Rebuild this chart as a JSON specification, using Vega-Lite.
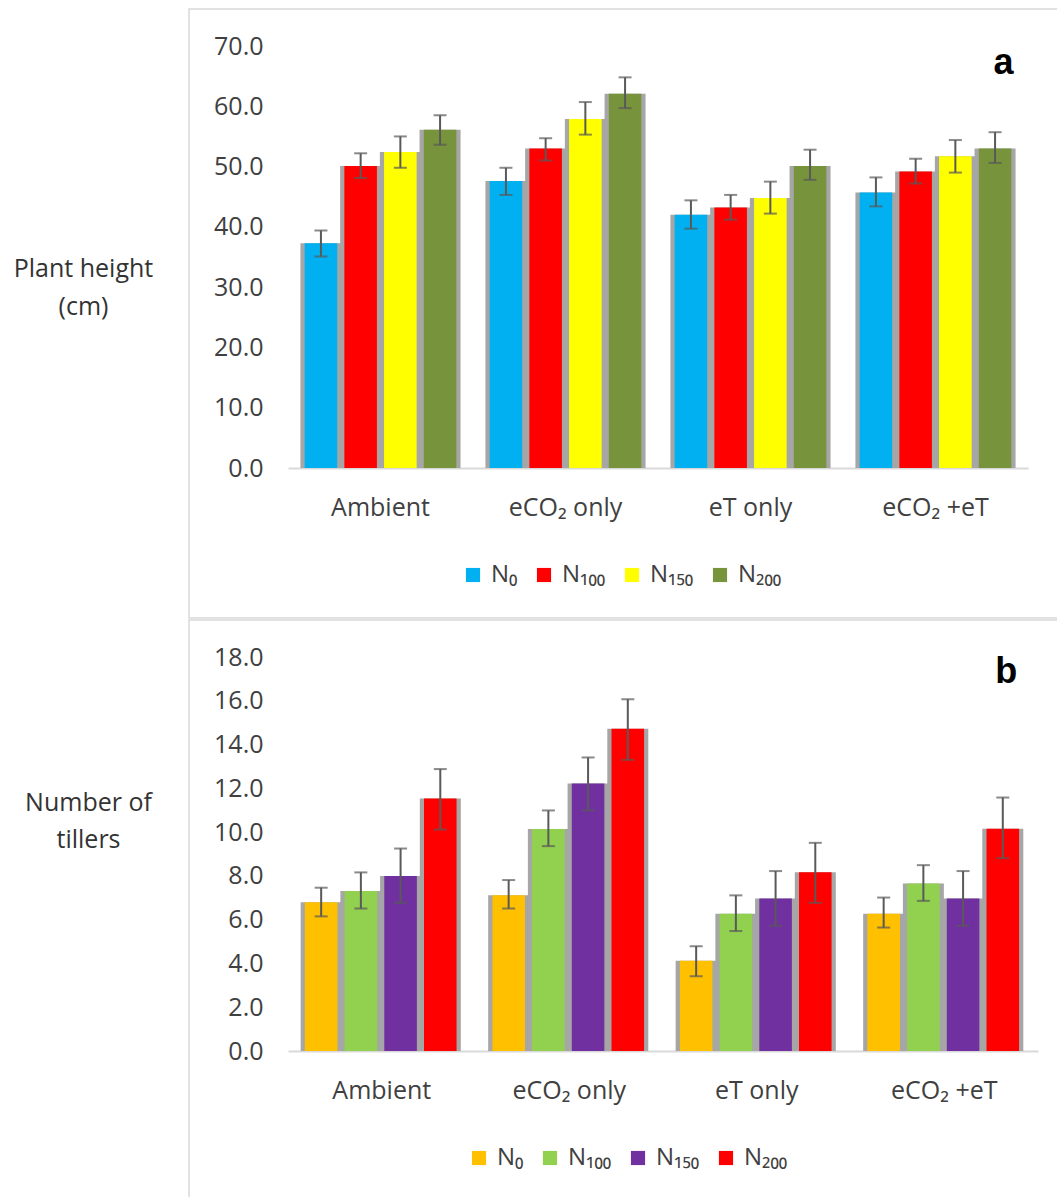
{
  "$schema": "https://vega.github.io/schema/vega-lite/v6.json",
  "padding": {"left": 12, "top": 8, "right": 0, "bottom": 0},
  "spacing": 0,
  "resolve": {"scale": {"color": "independent"}, "legend": {"color": "independent"}},
  "config": {
    "view": {"stroke": "#d9d9d9", "strokeWidth": 1.5},
    "font": "Open Sans",
    "axis": {"labelColor": "#404040", "titleColor": "#333333", "labelFont": "Open Sans", "titleFont": "Open Sans", "grid": false, "ticks": false, "tickSize": 0},
    "legend": {"labelColor": "#404040", "labelFont": "Open Sans"}
  },
  "datasets": {
    "height": [
      {"cond": "Ambient", "n": "N₀", "value": 37.3, "lo": 35.1, "hi": 39.4},
      {"cond": "Ambient", "n": "N₁₀₀", "value": 50.1, "lo": 48.1, "hi": 52.2},
      {"cond": "Ambient", "n": "N₁₅₀", "value": 52.4, "lo": 49.8, "hi": 55.0},
      {"cond": "Ambient", "n": "N₂₀₀", "value": 56.1, "lo": 53.6, "hi": 58.5},
      {"cond": "eCO₂ only", "n": "N₀", "value": 47.6, "lo": 45.3, "hi": 49.8},
      {"cond": "eCO₂ only", "n": "N₁₀₀", "value": 53.0, "lo": 51.0, "hi": 54.7},
      {"cond": "eCO₂ only", "n": "N₁₅₀", "value": 57.9, "lo": 55.3, "hi": 60.7},
      {"cond": "eCO₂ only", "n": "N₂₀₀", "value": 62.1, "lo": 59.7, "hi": 64.8},
      {"cond": "eT only", "n": "N₀", "value": 42.0, "lo": 39.7, "hi": 44.4},
      {"cond": "eT only", "n": "N₁₀₀", "value": 43.2, "lo": 41.2, "hi": 45.3},
      {"cond": "eT only", "n": "N₁₅₀", "value": 44.8, "lo": 42.2, "hi": 47.5},
      {"cond": "eT only", "n": "N₂₀₀", "value": 50.1, "lo": 47.8, "hi": 52.8},
      {"cond": "eCO₂ +eT", "n": "N₀", "value": 45.7, "lo": 43.4, "hi": 48.2},
      {"cond": "eCO₂ +eT", "n": "N₁₀₀", "value": 49.2, "lo": 47.2, "hi": 51.3},
      {"cond": "eCO₂ +eT", "n": "N₁₅₀", "value": 51.7, "lo": 49.0, "hi": 54.4},
      {"cond": "eCO₂ +eT", "n": "N₂₀₀", "value": 53.0, "lo": 50.6, "hi": 55.7}
    ],
    "tillers": [
      {"cond": "Ambient", "n": "N₀", "value": 6.79, "lo": 6.15, "hi": 7.46},
      {"cond": "Ambient", "n": "N₁₀₀", "value": 7.31, "lo": 6.51, "hi": 8.16},
      {"cond": "Ambient", "n": "N₁₅₀", "value": 7.99, "lo": 6.77, "hi": 9.25},
      {"cond": "Ambient", "n": "N₂₀₀", "value": 11.53, "lo": 10.12, "hi": 12.88},
      {"cond": "eCO₂ only", "n": "N₀", "value": 7.12, "lo": 6.51, "hi": 7.81},
      {"cond": "eCO₂ only", "n": "N₁₀₀", "value": 10.14, "lo": 9.36, "hi": 10.99},
      {"cond": "eCO₂ only", "n": "N₁₅₀", "value": 12.22, "lo": 10.99, "hi": 13.41},
      {"cond": "eCO₂ only", "n": "N₂₀₀", "value": 14.72, "lo": 13.30, "hi": 16.07},
      {"cond": "eT only", "n": "N₀", "value": 4.12, "lo": 3.42, "hi": 4.79},
      {"cond": "eT only", "n": "N₁₀₀", "value": 6.27, "lo": 5.48, "hi": 7.11},
      {"cond": "eT only", "n": "N₁₅₀", "value": 6.97, "lo": 5.72, "hi": 8.22},
      {"cond": "eT only", "n": "N₂₀₀", "value": 8.17, "lo": 6.77, "hi": 9.51},
      {"cond": "eCO₂ +eT", "n": "N₀", "value": 6.27, "lo": 5.64, "hi": 7.01},
      {"cond": "eCO₂ +eT", "n": "N₁₀₀", "value": 7.65, "lo": 6.86, "hi": 8.49},
      {"cond": "eCO₂ +eT", "n": "N₁₅₀", "value": 6.97, "lo": 5.72, "hi": 8.22},
      {"cond": "eCO₂ +eT", "n": "N₂₀₀", "value": 10.15, "lo": 8.81, "hi": 11.58}
    ]
  },
  "vconcat": [
    {
      "width": 870,
      "height": 609,
      "layer": [
        {
          "data": {"name": "height"},
          "encoding": {
            "x": {"field": "cond", "type": "nominal",
              "scale": {"domain": ["Ambient", "eCO₂ only", "eT only", "eCO₂ +eT"], "range": [99, 839], "paddingInner": 0.18, "paddingOuter": 0.09},
              "axis": {"title": null, "offset": -150, "labelAngle": 0, "labelPadding": 27, "labelFontSize": 25, "domainColor": "#d9d9d9", "domainWidth": 2}},
            "xOffset": {"field": "n", "type": "nominal", "sort": ["N₀", "N₁₀₀", "N₁₅₀", "N₂₀₀"], "scale": {"paddingInner": 0.18, "paddingOuter": 0}}
          },
          "layer": [
            {
              "mark": {"type": "bar", "color": "#a6a6a6", "width": 41},
              "encoding": {
                "y": {"field": "value", "type": "quantitative",
                  "scale": {"domain": [0, 70], "range": [459, 37], "nice": false},
                  "axis": {"title": ["Plant height", "(cm)"], "values": [0, 10, 20, 30, 40, 50, 60, 70], "format": ".1f", "domain": false, "offset": -74, "labelPadding": 0, "labelFontSize": 25,
                    "titleAngle": 0, "titleAlign": "center", "titleBaseline": "middle", "titleX": -180, "titleY": 259, "titleFontSize": 25, "titleFontWeight": "normal", "titleLineHeight": 38}}
              }
            },
            {
              "mark": {"type": "bar"},
              "encoding": {
                "y": {"field": "value", "type": "quantitative",
                  "axis": {"title": ["Plant height", "(cm)"], "values": [0, 10, 20, 30, 40, 50, 60, 70], "format": ".1f", "domain": false, "offset": -74, "labelPadding": 0, "labelFontSize": 25,
                    "titleAngle": 0, "titleAlign": "center", "titleBaseline": "middle", "titleX": -180, "titleY": 259, "titleFontSize": 25, "titleFontWeight": "normal", "titleLineHeight": 38}},
                "color": {"field": "n", "type": "nominal", "sort": ["N₀", "N₁₀₀", "N₁₅₀", "N₂₀₀"],
                  "scale": {"domain": ["N₀", "N₁₀₀", "N₁₅₀", "N₂₀₀"], "range": ["#00b0f0", "#ff0000", "#ffff00", "#77933c"]},
                  "legend": {"orient": "none", "legendX": 272, "legendY": 554, "direction": "horizontal", "title": null, "symbolType": "square", "symbolSize": 200, "symbolStrokeWidth": 0, "labelFontSize": 24, "labelOffset": 6, "columnPadding": 14}}
              }
            },
            {
              "mark": {"type": "rule", "color": "#595959", "strokeWidth": 2},
              "encoding": {
                "y": {"field": "lo", "type": "quantitative",
                  "axis": {"title": ["Plant height", "(cm)"], "values": [0, 10, 20, 30, 40, 50, 60, 70], "format": ".1f", "domain": false, "offset": -74, "labelPadding": 0, "labelFontSize": 25,
                    "titleAngle": 0, "titleAlign": "center", "titleBaseline": "middle", "titleX": -180, "titleY": 259, "titleFontSize": 25, "titleFontWeight": "normal", "titleLineHeight": 38}},
                "y2": {"field": "hi"}
              }
            },
            {
              "mark": {"type": "tick", "color": "#595959", "thickness": 2, "size": 13},
              "encoding": {"y": {"field": "lo", "type": "quantitative",
                  "axis": {"title": ["Plant height", "(cm)"], "values": [0, 10, 20, 30, 40, 50, 60, 70], "format": ".1f", "domain": false, "offset": -74, "labelPadding": 0, "labelFontSize": 25,
                    "titleAngle": 0, "titleAlign": "center", "titleBaseline": "middle", "titleX": -180, "titleY": 259, "titleFontSize": 25, "titleFontWeight": "normal", "titleLineHeight": 38}}}
            },
            {
              "mark": {"type": "tick", "color": "#595959", "thickness": 2, "size": 13},
              "encoding": {"y": {"field": "hi", "type": "quantitative",
                  "axis": {"title": ["Plant height", "(cm)"], "values": [0, 10, 20, 30, 40, 50, 60, 70], "format": ".1f", "domain": false, "offset": -74, "labelPadding": 0, "labelFontSize": 25,
                    "titleAngle": 0, "titleAlign": "center", "titleBaseline": "middle", "titleX": -180, "titleY": 259, "titleFontSize": 25, "titleFontWeight": "normal", "titleLineHeight": 38}}}
            }
          ]
        },
        {
          "data": {"values": [{"label": "a"}]},
          "mark": {"type": "text", "font": "Liberation Sans", "fontSize": 36, "fontWeight": "bold", "color": "#000000", "baseline": "alphabetic", "align": "center", "dx": 68},
          "encoding": {
            "x": {"datum": "eCO₂ +eT", "type": "nominal",
              "axis": {"title": null, "offset": -150, "labelAngle": 0, "labelPadding": 27, "labelFontSize": 25, "domainColor": "#d9d9d9", "domainWidth": 2}},
            "y": {"datum": 65.3, "type": "quantitative",
              "axis": {"title": ["Plant height", "(cm)"], "values": [0, 10, 20, 30, 40, 50, 60, 70], "format": ".1f", "domain": false, "offset": -74, "labelPadding": 0, "labelFontSize": 25,
                "titleAngle": 0, "titleAlign": "center", "titleBaseline": "middle", "titleX": -180, "titleY": 259, "titleFontSize": 25, "titleFontWeight": "normal", "titleLineHeight": 38}},
            "text": {"field": "label"}
          }
        }
      ]
    },
    {
      "width": 870,
      "height": 580,
      "layer": [
        {
          "data": {"name": "tillers"},
          "encoding": {
            "x": {"field": "cond", "type": "nominal",
              "scale": {"domain": ["Ambient", "eCO₂ only", "eT only", "eCO₂ +eT"], "range": [99, 849], "paddingInner": 0.18, "paddingOuter": 0.09},
              "axis": {"title": null, "offset": -149, "labelAngle": 0, "labelPadding": 27, "labelFontSize": 25, "domainColor": "#d9d9d9", "domainWidth": 2}},
            "xOffset": {"field": "n", "type": "nominal", "sort": ["N₀", "N₁₀₀", "N₁₅₀", "N₂₀₀"], "scale": {"paddingInner": 0.18, "paddingOuter": 0}}
          },
          "layer": [
            {
              "mark": {"type": "bar", "color": "#a6a6a6", "width": 41},
              "encoding": {
                "y": {"field": "value", "type": "quantitative",
                  "scale": {"domain": [0, 18], "range": [431, 37], "nice": false},
                  "axis": {"title": ["Number of", "tillers"], "values": [0, 2, 4, 6, 8, 10, 12, 14, 16, 18], "format": ".1f", "domain": false, "offset": -74, "labelPadding": 0, "labelFontSize": 25,
                    "titleAngle": 0, "titleAlign": "center", "titleBaseline": "middle", "titleX": -175, "titleY": 182, "titleFontSize": 25, "titleFontWeight": "normal", "titleLineHeight": 37}}
              }
            },
            {
              "mark": {"type": "bar"},
              "encoding": {
                "y": {"field": "value", "type": "quantitative",
                  "axis": {"title": ["Number of", "tillers"], "values": [0, 2, 4, 6, 8, 10, 12, 14, 16, 18], "format": ".1f", "domain": false, "offset": -74, "labelPadding": 0, "labelFontSize": 25,
                    "titleAngle": 0, "titleAlign": "center", "titleBaseline": "middle", "titleX": -175, "titleY": 182, "titleFontSize": 25, "titleFontWeight": "normal", "titleLineHeight": 37}},
                "color": {"field": "n", "type": "nominal", "sort": ["N₀", "N₁₀₀", "N₁₅₀", "N₂₀₀"],
                  "scale": {"domain": ["N₀", "N₁₀₀", "N₁₅₀", "N₂₀₀"], "range": ["#ffc000", "#92d050", "#7030a0", "#ff0000"]},
                  "legend": {"orient": "none", "legendX": 278, "legendY": 526, "direction": "horizontal", "title": null, "symbolType": "square", "symbolSize": 200, "symbolStrokeWidth": 0, "labelFontSize": 24, "labelOffset": 6, "columnPadding": 14}}
              }
            },
            {
              "mark": {"type": "rule", "color": "#595959", "strokeWidth": 2},
              "encoding": {
                "y": {"field": "lo", "type": "quantitative",
                  "axis": {"title": ["Number of", "tillers"], "values": [0, 2, 4, 6, 8, 10, 12, 14, 16, 18], "format": ".1f", "domain": false, "offset": -74, "labelPadding": 0, "labelFontSize": 25,
                    "titleAngle": 0, "titleAlign": "center", "titleBaseline": "middle", "titleX": -175, "titleY": 182, "titleFontSize": 25, "titleFontWeight": "normal", "titleLineHeight": 37}},
                "y2": {"field": "hi"}
              }
            },
            {
              "mark": {"type": "tick", "color": "#595959", "thickness": 2, "size": 13},
              "encoding": {"y": {"field": "lo", "type": "quantitative",
                  "axis": {"title": ["Number of", "tillers"], "values": [0, 2, 4, 6, 8, 10, 12, 14, 16, 18], "format": ".1f", "domain": false, "offset": -74, "labelPadding": 0, "labelFontSize": 25,
                    "titleAngle": 0, "titleAlign": "center", "titleBaseline": "middle", "titleX": -175, "titleY": 182, "titleFontSize": 25, "titleFontWeight": "normal", "titleLineHeight": 37}}}
            },
            {
              "mark": {"type": "tick", "color": "#595959", "thickness": 2, "size": 13},
              "encoding": {"y": {"field": "hi", "type": "quantitative",
                  "axis": {"title": ["Number of", "tillers"], "values": [0, 2, 4, 6, 8, 10, 12, 14, 16, 18], "format": ".1f", "domain": false, "offset": -74, "labelPadding": 0, "labelFontSize": 25,
                    "titleAngle": 0, "titleAlign": "center", "titleBaseline": "middle", "titleX": -175, "titleY": 182, "titleFontSize": 25, "titleFontWeight": "normal", "titleLineHeight": 37}}}
            }
          ]
        },
        {
          "data": {"values": [{"label": "b"}]},
          "mark": {"type": "text", "font": "Liberation Sans", "fontSize": 36, "fontWeight": "bold", "color": "#000000", "baseline": "alphabetic", "align": "center", "dx": 62},
          "encoding": {
            "x": {"datum": "eCO₂ +eT", "type": "nominal",
              "axis": {"title": null, "offset": -149, "labelAngle": 0, "labelPadding": 27, "labelFontSize": 25, "domainColor": "#d9d9d9", "domainWidth": 2}},
            "y": {"datum": 16.8, "type": "quantitative",
              "axis": {"title": ["Number of", "tillers"], "values": [0, 2, 4, 6, 8, 10, 12, 14, 16, 18], "format": ".1f", "domain": false, "offset": -74, "labelPadding": 0, "labelFontSize": 25,
                "titleAngle": 0, "titleAlign": "center", "titleBaseline": "middle", "titleX": -175, "titleY": 182, "titleFontSize": 25, "titleFontWeight": "normal", "titleLineHeight": 37}},
            "text": {"field": "label"}
          }
        }
      ]
    }
  ]
}
